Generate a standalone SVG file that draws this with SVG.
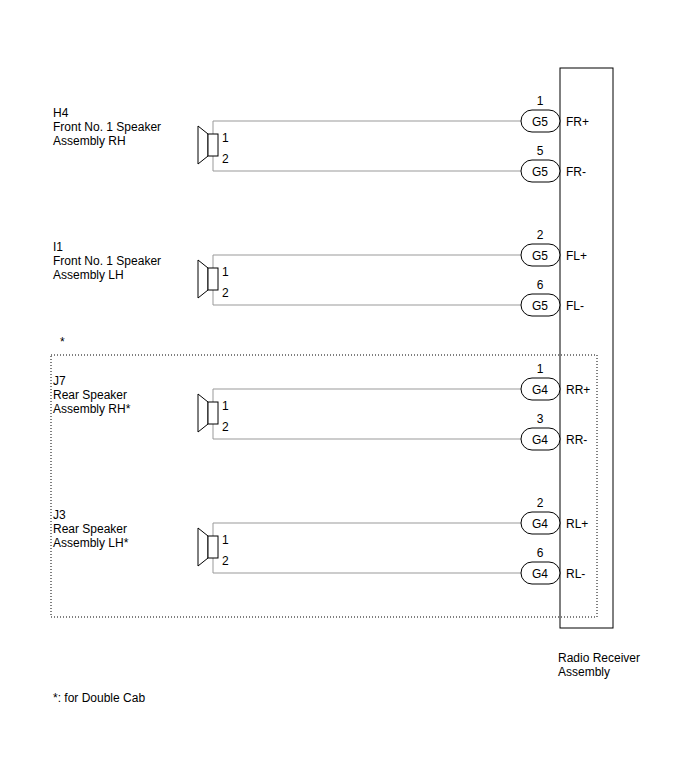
<svg xmlns="http://www.w3.org/2000/svg" width="691" height="759" viewBox="0 0 691 759">
<style>
text{font-family:"Liberation Sans",Arial,sans-serif;font-size:12px;fill:#000}
.w{fill:none;stroke:#999;stroke-width:1}
.k{fill:#fff;stroke:#000;stroke-width:1}
.c{text-anchor:middle}
</style>
<defs>
<g id="spk">
<path class="w" d="M213,-5V8M213,30V45H523M213,-5H523"/>
<polygon class="k" points="198,0 208,8 208,30 198,38"/>
<rect class="k" x="208" y="8" width="10" height="22"/>
<text x="222" y="16">1</text><text x="222" y="37">2</text>
</g>
</defs>
<rect id="radio" x="560" y="68" width="53" height="560" fill="#fff" stroke="#000"/>
<g id="connectors">
<use href="#spk" y="126"/>
<use href="#spk" y="260"/>
<use href="#spk" y="394"/>
<use href="#spk" y="528"/>
</g>
<g id="spk1"><text x="53" y="117">H4</text><text x="53" y="131">Front No. 1 Speaker</text><text x="53" y="145">Assembly RH</text></g>
<g id="spk2"><text x="53" y="251">I1</text><text x="53" y="265">Front No. 1 Speaker</text><text x="53" y="279">Assembly LH</text></g>
<g id="spk3"><text x="53" y="385">J7</text><text x="53" y="399">Rear Speaker</text><text x="53" y="413">Assembly RH*</text></g>
<g id="spk4"><text x="53" y="519">J3</text><text x="53" y="533">Rear Speaker</text><text x="53" y="547">Assembly LH*</text></g>
<g id="pins">
<g><rect class="k" x="521" y="110" width="39" height="22" rx="11"/><text class="c" x="540" y="126">G5</text><text class="c" x="540" y="105">1</text><text x="566" y="126">FR+</text></g>
<g><rect class="k" x="521" y="160" width="39" height="22" rx="11"/><text class="c" x="540" y="176">G5</text><text class="c" x="540" y="155">5</text><text x="566" y="176">FR-</text></g>
<g><rect class="k" x="521" y="244" width="39" height="22" rx="11"/><text class="c" x="540" y="260">G5</text><text class="c" x="540" y="239">2</text><text x="566" y="260">FL+</text></g>
<g><rect class="k" x="521" y="294" width="39" height="22" rx="11"/><text class="c" x="540" y="310">G5</text><text class="c" x="540" y="289">6</text><text x="566" y="310">FL-</text></g>
<g><rect class="k" x="521" y="378" width="39" height="22" rx="11"/><text class="c" x="540" y="394">G4</text><text class="c" x="540" y="373">1</text><text x="566" y="394">RR+</text></g>
<g><rect class="k" x="521" y="428" width="39" height="22" rx="11"/><text class="c" x="540" y="444">G4</text><text class="c" x="540" y="423">3</text><text x="566" y="444">RR-</text></g>
<g><rect class="k" x="521" y="512" width="39" height="22" rx="11"/><text class="c" x="540" y="528">G4</text><text class="c" x="540" y="507">2</text><text x="566" y="528">RL+</text></g>
<g><rect class="k" x="521" y="562" width="39" height="22" rx="11"/><text class="c" x="540" y="578">G4</text><text class="c" x="540" y="557">6</text><text x="566" y="578">RL-</text></g>
</g>
<rect x="51" y="355" width="546" height="262" fill="none" stroke="#000" stroke-dasharray="1,2"/>
<text x="60" y="346">*</text>
<text x="558" y="662">Radio Receiver</text><text x="558" y="676">Assembly</text>
<text x="53" y="702">*: for Double Cab</text>
</svg>
